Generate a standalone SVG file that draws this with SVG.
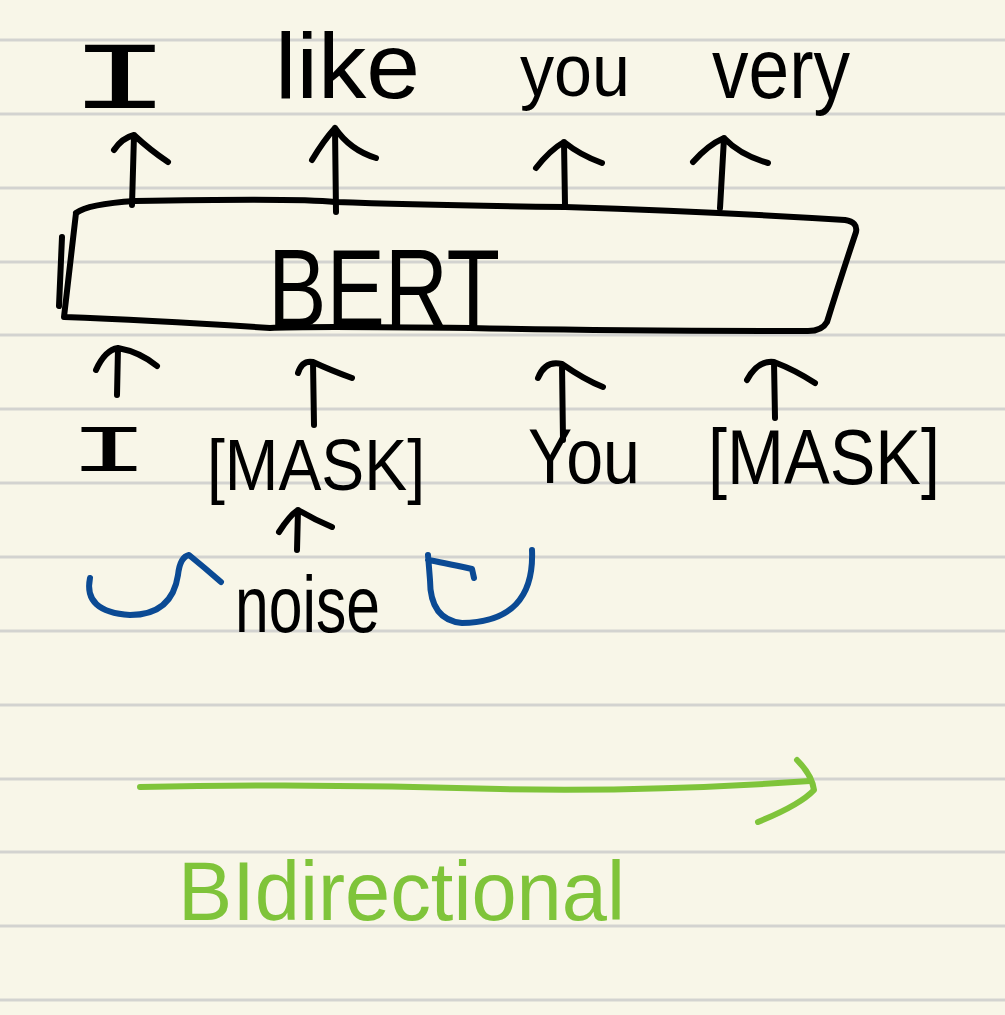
<svg xmlns="http://www.w3.org/2000/svg" width="1005" height="1015" viewBox="0 0 1005 1015">
  <style>
    .paper { fill: #f8f6e8; }
    .rule { stroke: #d3d3d0; stroke-width: 3; }
    .ink { fill: none; stroke: #000000; stroke-width: 6; stroke-linecap: round; stroke-linejoin: round; }
    .blue { fill: none; stroke: #0b4a94; stroke-width: 6; stroke-linecap: round; stroke-linejoin: round; }
    .green { fill: none; stroke: #7fc43a; stroke-width: 6; stroke-linecap: round; stroke-linejoin: round; }
    .hw { font-family: "Liberation Sans", "DejaVu Sans", sans-serif; fill: #000000; }
    .hwm { font-family: "Liberation Mono", "DejaVu Sans Mono", monospace; fill: #000000; }
    .hwg { font-family: "Liberation Sans", "DejaVu Sans", sans-serif; fill: #7fc43a; }
  </style>
  <rect class="paper" x="0" y="0" width="1005" height="1015"/>
  <g id="rules">
    <line class="rule" x1="0" y1="40" x2="1005" y2="40"/>
    <line class="rule" x1="0" y1="114" x2="1005" y2="114"/>
    <line class="rule" x1="0" y1="188" x2="1005" y2="188"/>
    <line class="rule" x1="0" y1="262" x2="1005" y2="262"/>
    <line class="rule" x1="0" y1="335" x2="1005" y2="335"/>
    <line class="rule" x1="0" y1="409" x2="1005" y2="409"/>
    <line class="rule" x1="0" y1="483" x2="1005" y2="483"/>
    <line class="rule" x1="0" y1="557" x2="1005" y2="557"/>
    <line class="rule" x1="0" y1="631" x2="1005" y2="631"/>
    <line class="rule" x1="0" y1="705" x2="1005" y2="705"/>
    <line class="rule" x1="0" y1="779" x2="1005" y2="779"/>
    <line class="rule" x1="0" y1="852" x2="1005" y2="852"/>
    <line class="rule" x1="0" y1="926" x2="1005" y2="926"/>
    <line class="rule" x1="0" y1="1000" x2="1005" y2="1000"/>
  </g>

  <g id="out-I"><text class="hwm" x="68" y="108" font-size="96" textLength="104" lengthAdjust="spacingAndGlyphs">I</text></g>
  <g id="out-like"><text class="hw" x="275" y="98" font-size="92" textLength="145" lengthAdjust="spacingAndGlyphs">like</text></g>
  <g id="out-you"><text class="hw" x="520" y="96" font-size="74" textLength="110" lengthAdjust="spacingAndGlyphs">you</text></g>
  <g id="out-very"><text class="hw" x="712" y="98" font-size="86" textLength="138" lengthAdjust="spacingAndGlyphs">very</text></g>

  <g id="bert">
    <path class="ink" d="M76,213 Q88,204 135,201 Q300,198 335,202 Q420,205 565,207 Q720,212 845,220 Q858,222 856,232 Q840,280 827,322 Q822,331 808,331 Q600,331 470,328 Q300,326 270,328 Q150,320 64,317 L76,213"/>
    <path class="ink" d="M62,237 L59,306"/>
    <text class="hw" x="268" y="327" font-size="112" textLength="232" lengthAdjust="spacingAndGlyphs">BERT</text>
  </g>

  <g id="in-I"><text class="hwm" x="68" y="471" font-size="66" textLength="82" lengthAdjust="spacingAndGlyphs">I</text></g>
  <g id="in-mask1"><text class="hw" x="207" y="490" font-size="72" textLength="218" lengthAdjust="spacingAndGlyphs">[MASK]</text></g>
  <g id="in-you"><text class="hw" x="528" y="483" font-size="78" textLength="112" lengthAdjust="spacingAndGlyphs">You</text></g>
  <g id="in-mask2"><text class="hw" x="708" y="484" font-size="78" textLength="232" lengthAdjust="spacingAndGlyphs">[MASK]</text></g>
  <g id="noise"><text class="hw" x="235" y="632" font-size="80" textLength="145" lengthAdjust="spacingAndGlyphs">noise</text></g>
  <g id="bidirectional"><text class="hwg" x="178" y="920" font-size="84" textLength="447" lengthAdjust="spacingAndGlyphs">BIdirectional</text></g>

  <g id="connectors">
    <path class="ink" d="M132,205 L134,135 M114,150 Q122,138 134,135 Q150,150 168,162"/>
    <path class="ink" d="M336,212 L335,128 M312,160 Q324,140 335,128 Q350,150 376,158"/>
    <path class="ink" d="M565,205 L564,142 M536,168 Q550,150 564,142 Q580,155 602,163"/>
    <path class="ink" d="M720,208 L724,138 M693,162 Q708,145 724,138 Q740,155 768,163"/>
    <path class="ink" d="M117,395 L118,348 M96,370 Q105,350 118,348 Q140,352 157,366"/>
    <path class="ink" d="M314,425 L313,362 M298,373 Q302,360 313,362 Q330,370 352,378"/>
    <path class="ink" d="M563,440 L562,364 M538,378 Q545,360 562,364 Q585,380 603,387"/>
    <path class="ink" d="M775,418 L774,362 M747,380 Q758,360 774,362 Q795,370 815,383"/>
    <path class="ink" d="M297,550 L298,510 M279,532 Q290,515 298,510 Q315,520 332,527"/>
    <path class="blue" d="M90,578 Q83,612 130,615 Q172,615 178,575 Q180,557 189,555 Q205,568 221,582"/>
    <path class="blue" d="M532,550 Q535,622 462,623 Q430,620 430,580 L428,555 M428,560 Q440,562 472,569 L474,578"/>
    <path class="green" d="M140,787 Q320,783 500,789 Q650,792 810,781"/>
    <path class="green" d="M797,760 Q812,775 814,790 Q800,805 758,822"/>
  </g>
</svg>
